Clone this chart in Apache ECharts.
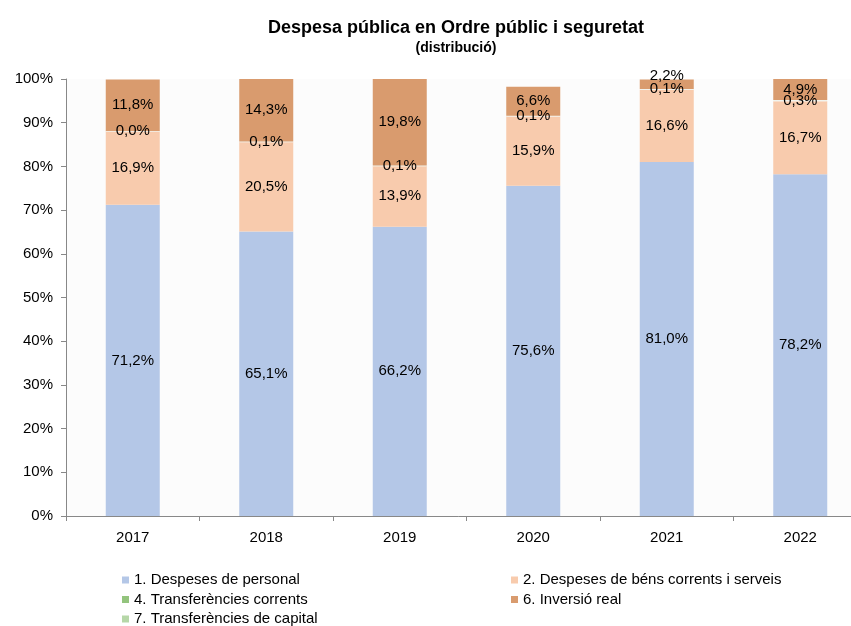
<!DOCTYPE html>
<html>
<head>
<meta charset="utf-8">
<script src="https://cdn.jsdelivr.net/npm/echarts@6/dist/echarts.min.js"></script>
<style>
  html, body { margin: 0; padding: 0; background: #fff; }
  #chart { width: 851px; height: 626px; }
</style>
</head>
<body>
<div id="chart"></div>
<script>
const years = ['2017', '2018', '2019', '2020', '2021', '2022'];
const personal = [71.2, 65.1, 66.2, 75.6, 81.0, 78.2];
const bens = [16.9, 20.5, 13.9, 15.9, 16.6, 16.7];
const transfCorrents = [0.0, 0.1, 0.1, 0.1, 0.1, 0.3];
const inversio = [11.8, 14.3, 19.8, 6.6, 2.2, 4.9];
const transfCapital = [0, 0, 0, 0, 0, 0];
const yTicks = [0, 10, 20, 30, 40, 50, 60, 70, 80, 90, 100];

const names = [
  '1. Despeses de personal',
  '2. Despeses de béns corrents i serveis',
  '4. Transferències corrents',
  '6. Inversió real',
  '7. Transferències de capital'
];
const colors = ['#b4c7e7', '#f8cbad', '#93c47d', '#d99b6e', '#b6d7a8'];
const values = [personal, bens, transfCorrents, inversio, transfCapital];

const fmt = p => p.value.toFixed(1).replace('.', ',') + '%';
const font = 'Liberation Sans, Arial, sans-serif';

let myChart = echarts.init(document.getElementById('chart'));

let series = values.map((d, i) => ({
  name: names[i],
  type: 'bar',
  stack: 'total',
  barWidth: 54,
  data: d,
  itemStyle: { color: colors[i], borderColor: i === 2 ? '#f2f4ee' : 'transparent', borderWidth: i === 2 ? 1 : 0 },
  label: {
    show: i !== 4,
    position: 'inside',
    formatter: fmt,
    color: '#000',
    fontFamily: font,
    fontSize: 15
  },
  // small top segment: push its label up, as in the original
  labelLayout: i === 3 ? function (p) {
    return p.rect.height < 12 ? { dy: -8 } : {};
  } : undefined
}));

const legendText = { fontFamily: font, fontSize: 15, color: '#000', lineHeight: 16 };

let option = {
  animation: false,
  color: colors,
  title: {
    text: 'Despesa pública en Ordre públic i seguretat',
    subtext: '(distribució)',
    left: 451,
    top: 14,
    textAlign: 'center',
    itemGap: 4,
    textStyle: { fontFamily: font, fontSize: 18, fontWeight: 'bold', color: '#000' },
    subtextStyle: { fontFamily: font, fontSize: 14, fontWeight: 'bold', color: '#000' }
  },
  legend: [
    {
      left: 117, top: 567, height: 60, orient: 'vertical', itemGap: 3.5,
      itemWidth: 7, itemHeight: 7, icon: 'rect',
      itemStyle: { borderWidth: 0 },
      data: [names[0], names[2], names[4]],
      textStyle: legendText
    },
    {
      left: 506, top: 567, height: 60, orient: 'vertical', itemGap: 3.5,
      itemWidth: 7, itemHeight: 7, icon: 'rect',
      itemStyle: { borderWidth: 0 },
      data: [names[1], names[3]],
      textStyle: legendText
    }
  ],
  grid: {
    left: 66, top: 79, right: -16, bottom: 110,
    outerBoundsMode: 'none',
    show: true, backgroundColor: '#fcfcfc', borderWidth: 0
  },
  xAxis: {
    type: 'category',
    data: years,
    axisLine: { lineStyle: { color: '#888', width: 1 } },
    axisTick: { show: true, length: 5, lineStyle: { color: '#888' } },
    axisLabel: { color: '#000', fontFamily: font, fontSize: 15, margin: 14 }
  },
  yAxis: {
    type: 'value',
    min: yTicks[0],
    max: yTicks[yTicks.length - 1],
    interval: yTicks[1] - yTicks[0],
    axisLine: { show: true, lineStyle: { color: '#888' } },
    axisTick: { show: true, length: 5, lineStyle: { color: '#888' } },
    splitLine: { show: false },
    axisLabel: { color: '#000', fontFamily: font, fontSize: 15, margin: 13, formatter: '{value}%' }
  },
  series: series
};
myChart.setOption(option);
</script>
</body>
</html>
